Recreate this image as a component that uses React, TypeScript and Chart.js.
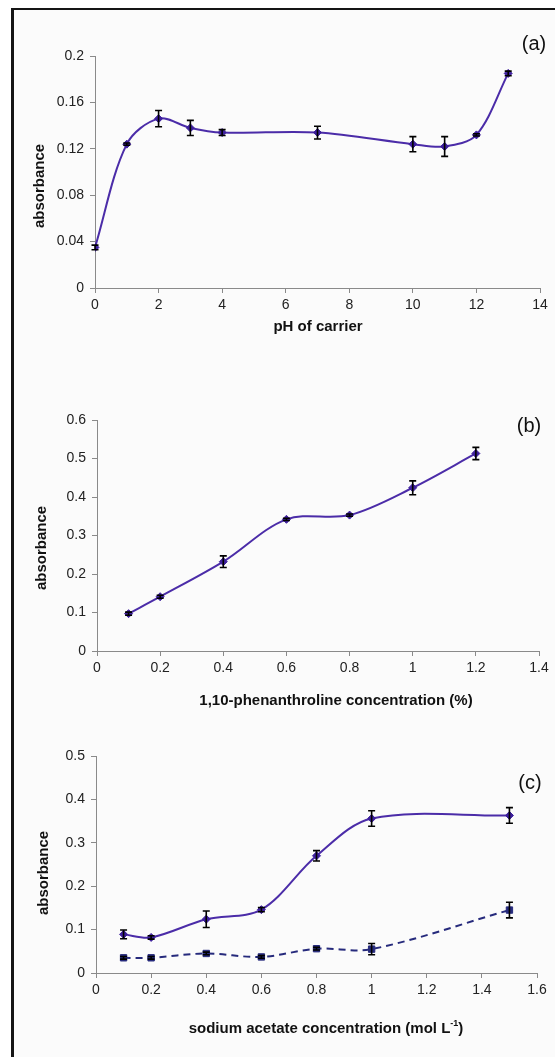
import React, { useEffect, useRef } from 'react';
import { Chart, registerables } from 'chart.js';

Chart.register(...registerables);

// ---------- Panel (a): pH of carrier ----------
const phA = [0, 1, 2, 3, 4, 7, 10, 11, 12, 13];
const absA = [0.035, 0.124, 0.146, 0.138, 0.134, 0.134, 0.124, 0.122, 0.132, 0.185];
const errA = [0.002, 0.001, 0.007, 0.0065, 0.0025, 0.0055, 0.0065, 0.0085, 0.001, 0.002];
const xTickValsA = [0, 2, 4, 6, 8, 10, 12, 14];
const xTickLabelsA = ['0', '2', '4', '6', '8', '10', '12', '14'];
const yTickValsA = [0, 0.04, 0.08, 0.12, 0.16, 0.2];
const yTickLabelsA = ['0', '0.04', '0.08', '0.12', '0.16', '0.2'];

// ---------- Panel (b): 1,10-phenanthroline ----------
const concB = [0.1, 0.2, 0.4, 0.6, 0.8, 1.0, 1.2];
const absB = [0.097, 0.141, 0.232, 0.342, 0.353, 0.424, 0.513];
const errB = [0.004, 0.004, 0.015, 0.003, 0.003, 0.018, 0.016];
const xTickValsB = [0, 0.2, 0.4, 0.6, 0.8, 1, 1.2, 1.4];
const xTickLabelsB = ['0', '0.2', '0.4', '0.6', '0.8', '1', '1.2', '1.4'];
const yTickValsB = [0, 0.1, 0.2, 0.3, 0.4, 0.5, 0.6];
const yTickLabelsB = ['0', '0.1', '0.2', '0.3', '0.4', '0.5', '0.6'];

// ---------- Panel (c): sodium acetate ----------
const concC = [0.1, 0.2, 0.4, 0.6, 0.8, 1.0, 1.5];
const absC1 = [0.089, 0.082, 0.124, 0.146, 0.27, 0.356, 0.363];
const errC1 = [0.01, 0.004, 0.019, 0.005, 0.012, 0.018, 0.018];
const absC2 = [0.035, 0.035, 0.045, 0.037, 0.056, 0.055, 0.145];
const errC2 = [0.003, 0.003, 0.003, 0.003, 0.003, 0.013, 0.018];
const xTickValsC = [0, 0.2, 0.4, 0.6, 0.8, 1, 1.2, 1.4, 1.6];
const xTickLabelsC = ['0', '0.2', '0.4', '0.6', '0.8', '1', '1.2', '1.4', '1.6'];
const yTickValsC = [0, 0.1, 0.2, 0.3, 0.4, 0.5];
const yTickLabelsC = ['0', '0.1', '0.2', '0.3', '0.4', '0.5'];

const FONT = '"Liberation Sans", Arial, Helvetica, sans-serif';
const LINE = '#4b2ca8';
const MARK = '#3d1f9c';
const LINE2 = '#262a7c';
const AXIS = '#8a8a8a';

type Part = { text: string; sup?: boolean };
type TextItem = { parts: Part[]; x: number; y: number; size: number; bold?: boolean; rotate?: boolean };

function makeTextPlugin(items: TextItem[]) {
  return {
    id: 'panelText',
    afterDraw(chart: any) {
      const ctx: CanvasRenderingContext2D = chart.ctx;
      items.forEach((it) => {
        ctx.save();
        ctx.translate(it.x, it.y);
        if (it.rotate) ctx.rotate(-Math.PI / 2);
        ctx.fillStyle = '#111';
        ctx.textBaseline = 'middle';
        ctx.textAlign = 'left';
        const fontFor = (p: Part) =>
          `${it.bold ? 'bold ' : ''}${p.sup ? Math.round(it.size * 0.62) : it.size}px ${FONT}`;
        let total = 0;
        const widths = it.parts.map((p) => {
          ctx.font = fontFor(p);
          const w = ctx.measureText(p.text).width;
          total += w;
          return w;
        });
        let cx = -total / 2;
        it.parts.forEach((p, i) => {
          ctx.font = fontFor(p);
          ctx.fillText(p.text, cx, p.sup ? -it.size * 0.38 : 0);
          cx += widths[i];
        });
        ctx.restore();
      });
    },
  };
}

const errorBarPlugin = {
  id: 'errorBars',
  afterDatasetsDraw(chart: any) {
    const ctx: CanvasRenderingContext2D = chart.ctx;
    const ys = chart.scales.y;
    chart.data.datasets.forEach((ds: any, i: number) => {
      const errs: number[] | undefined = ds.errors;
      if (!errs) return;
      const meta = chart.getDatasetMeta(i);
      meta.data.forEach((pt: any, j: number) => {
        const v = ds.data[j].y;
        const e = errs[j];
        if (!e) return;
        const top = ys.getPixelForValue(v + e);
        const bot = ys.getPixelForValue(v - e);
        const x = pt.x;
        ctx.save();
        ctx.strokeStyle = '#000';
        ctx.lineWidth = 1.6;
        ctx.beginPath();
        ctx.moveTo(x, top);
        ctx.lineTo(x, bot);
        ctx.moveTo(x - 3.5, top);
        ctx.lineTo(x + 3.5, top);
        ctx.moveTo(x - 3.5, bot);
        ctx.lineTo(x + 3.5, bot);
        ctx.stroke();
        ctx.restore();
      });
    });
  },
};

type PanelSpec = {
  width: number;
  height: number;
  area: { left: number; right: number; top: number; bottom: number };
  datasets: any[];
  xMin: number;
  xMax: number;
  xTicks: number[];
  xLabels: string[];
  yMin: number;
  yMax: number;
  yTicks: number[];
  yLabels: string[];
  texts: TextItem[];
};

function buildConfig(p: PanelSpec): any {
  const tickFont = { family: FONT, size: 14 };
  return {
    type: 'line',
    data: { datasets: p.datasets },
    plugins: [errorBarPlugin, makeTextPlugin(p.texts)],
    options: {
      responsive: false,
      animation: false,
      events: [],
      layout: { padding: { left: 0, top: p.area.top, right: p.width - p.area.right, bottom: 0 } },
      plugins: { legend: { display: false }, tooltip: { enabled: false }, title: { display: false } },
      scales: {
        x: {
          type: 'linear',
          min: p.xMin,
          max: p.xMax,
          afterBuildTicks: (s: any) => {
            s.ticks = p.xTicks.map((v) => ({ value: v }));
          },
          afterFit: (s: any) => {
            s.height = p.height - p.area.bottom;
          },
          ticks: {
            callback: (_v: any, i: number) => p.xLabels[i],
            autoSkip: false,
            maxRotation: 0,
            minRotation: 0,
            padding: 4,
            font: tickFont,
            color: '#222',
          },
          grid: { drawOnChartArea: false, drawTicks: true, tickLength: 5, color: AXIS },
          border: { display: true, color: AXIS, width: 1 },
        },
        y: {
          type: 'linear',
          min: p.yMin,
          max: p.yMax,
          afterBuildTicks: (s: any) => {
            s.ticks = p.yTicks.map((v) => ({ value: v }));
          },
          afterFit: (s: any) => {
            s.width = p.area.left;
          },
          ticks: {
            callback: (_v: any, i: number) => p.yLabels[i],
            autoSkip: false,
            padding: 6,
            font: tickFont,
            color: '#222',
          },
          grid: { drawOnChartArea: false, drawTicks: true, tickLength: 5, color: AXIS },
          border: { display: true, color: AXIS, width: 1 },
        },
      },
    },
  };
}

function solidSeries(xs: number[], ys: number[], errs: number[]) {
  return {
    data: xs.map((x, i) => ({ x, y: ys[i] })),
    errors: errs,
    borderColor: LINE,
    borderWidth: 2,
    pointStyle: 'rectRot',
    pointRadius: 4,
    pointBackgroundColor: MARK,
    pointBorderColor: MARK,
    pointBorderWidth: 1,
    tension: 0.33,
    fill: false,
  };
}

function dashedSeries(xs: number[], ys: number[], errs: number[]) {
  return {
    data: xs.map((x, i) => ({ x, y: ys[i] })),
    errors: errs,
    borderColor: LINE2,
    borderWidth: 2,
    borderDash: [7, 5],
    pointStyle: 'rect',
    pointRadius: 4.5,
    pointBackgroundColor: LINE2,
    pointBorderColor: LINE2,
    pointBorderWidth: 1,
    tension: 0.33,
    fill: false,
  };
}

const panelA: PanelSpec = {
  width: 555,
  height: 345,
  area: { left: 95, right: 540, top: 56, bottom: 288 },
  datasets: [solidSeries(phA, absA, errA)],
  xMin: 0,
  xMax: 14,
  xTicks: xTickValsA,
  xLabels: xTickLabelsA,
  yMin: 0,
  yMax: 0.2,
  yTicks: yTickValsA,
  yLabels: yTickLabelsA,
  texts: [
    { parts: [{ text: 'absorbance' }], x: 40, y: 186, size: 15, bold: true, rotate: true },
    { parts: [{ text: 'pH of carrier' }], x: 318, y: 327, size: 15, bold: true },
    { parts: [{ text: '(a)' }], x: 534, y: 44, size: 20 },
  ],
};

const panelB: PanelSpec = {
  width: 555,
  height: 370,
  area: { left: 97, right: 539, top: 75, bottom: 306 },
  datasets: [solidSeries(concB, absB, errB)],
  xMin: 0,
  xMax: 1.4,
  xTicks: xTickValsB,
  xLabels: xTickLabelsB,
  yMin: 0,
  yMax: 0.6,
  yTicks: yTickValsB,
  yLabels: yTickLabelsB,
  texts: [
    { parts: [{ text: 'absorbance' }], x: 42, y: 203, size: 15, bold: true, rotate: true },
    { parts: [{ text: '1,10-phenanthroline concentration (%)' }], x: 336, y: 356, size: 15, bold: true },
    { parts: [{ text: '(b)' }], x: 529, y: 81, size: 20 },
  ],
};

const panelC: PanelSpec = {
  width: 555,
  height: 342,
  area: { left: 96, right: 537, top: 41, bottom: 258 },
  datasets: [solidSeries(concC, absC1, errC1), dashedSeries(concC, absC2, errC2)],
  xMin: 0,
  xMax: 1.6,
  xTicks: xTickValsC,
  xLabels: xTickLabelsC,
  yMin: 0,
  yMax: 0.5,
  yTicks: yTickValsC,
  yLabels: yTickLabelsC,
  texts: [
    { parts: [{ text: 'absorbance' }], x: 44, y: 158, size: 15, bold: true, rotate: true },
    {
      parts: [{ text: 'sodium acetate concentration (mol L' }, { text: '-1', sup: true }, { text: ')' }],
      x: 326,
      y: 314,
      size: 15,
      bold: true,
    },
    { parts: [{ text: '(c)' }], x: 530, y: 68, size: 20 },
  ],
};

function Panel({ spec, top }: { spec: PanelSpec; top: number }) {
  const ref = useRef<HTMLCanvasElement | null>(null);
  useEffect(() => {
    if (!ref.current) return;
    const chart = new Chart(ref.current, buildConfig(spec));
    return () => chart.destroy();
  }, [spec]);
  return (
    <canvas
      ref={ref}
      width={spec.width}
      height={spec.height}
      style={{ position: 'absolute', left: 0, top, width: spec.width, height: spec.height }}
    />
  );
}

export default function App() {
  return (
    <div style={{ position: 'absolute', left: 0, top: 0, width: 555, height: 1057, overflow: 'hidden', background: '#fff' }}>
      <div
        style={{
          position: 'absolute',
          left: 11,
          top: 8,
          width: 544,
          height: 1049,
          boxSizing: 'border-box',
          borderLeft: '3px solid #151515',
          borderTop: '2px solid #151515',
          background: '#fbfbfb',
        }}
      />
      <Panel spec={panelA} top={0} />
      <Panel spec={panelB} top={345} />
      <Panel spec={panelC} top={715} />
    </div>
  );
}
